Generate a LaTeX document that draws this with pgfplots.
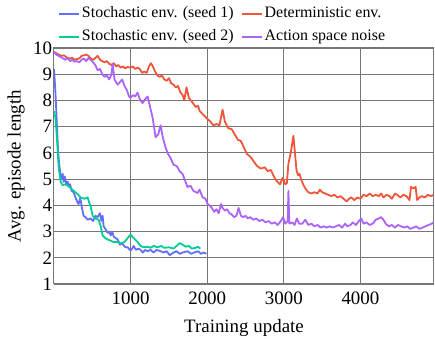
\documentclass[border=0pt]{standalone}
\usepackage{fontspec}
\setmainfont{Liberation Serif}
\newfontfamily\tnr{Liberation Serif}
\usepackage{pgfplots}
\pgfplotsset{compat=1.18}
\definecolor{pblue}{HTML}{636EFA}
\definecolor{pred}{HTML}{EF553B}
\definecolor{pgreen}{HTML}{00CC96}
\definecolor{ppurple}{HTML}{AB63FA}
\definecolor{gridc}{RGB}{118,118,118}
\newcommand{\legfont}{\fontsize{16}{19}\tnr}
\newcommand{\bigfont}{\fontsize{19}{22}\tnr}
\begin{document}
\begin{tikzpicture}[font=\bigfont]
\begin{axis}[
  name=ax,
  scale only axis,
  width=380bp, height=236bp,
  xmin=0, xmax=4960, ymin=1, ymax=10,
  xtick={1000,2000,3000,4000},
  ytick={1,2,3,4,5,6,7,8,9,10},
  major tick length=0pt,
  grid=major,
  grid style={gridc, line width=0.9bp},
  axis line style={gridc, line width=1bp},
  /pgf/number format/assume math mode=true,
  /pgf/number format/set thousands separator={},
  tick label style={font=\bigfont},
  label style={font=\bigfont},
  xticklabel style={yshift=-4bp},
  yticklabel style={xshift=1.5bp},
  xlabel={Training update},
  ylabel={Avg. episode length},
  xlabel style={at={(axis description cs:0.5,-0.1864)}, anchor=center},
  ylabel style={at={(axis description cs:-0.1,0.5)}, anchor=center},
  legend columns=2,
  legend style={draw=none, fill=none, inner sep=0pt, outer sep=0pt,
    at={(axis description cs:0,1)}, anchor=south west,
    xshift=4bp, yshift=3bp,
    font=\legfont, row sep=7bp,
    /tikz/every odd column/.append style={column sep=2bp},
    /tikz/every even column/.append style={column sep=7bp},
    nodes={inner sep=0pt, text height=12bp, text depth=4bp, font=\legfont}},
  legend cell align=left,
  legend image code/.code={\draw[#1, line width=2bp] (0bp,0bp) -- (20bp,0bp);},
  every axis plot/.append style={line width=1.8bp, line join=round},
]
\addplot[pblue] coordinates {
(0,9.2)(15,8.5)(30,7.6)(45,6.6)(55,6.0)(70,5.5)(87,5.15)(100,5.0)(113,5.2)(126,4.9)(140,5.1)(160,4.8)(179,4.9)(192,4.75)(210,4.8)(230,4.55)(257,4.5)(280,4.3)(309,4.1)(322,4.05)(340,4.25)(348,4.2)(365,3.9)(387,3.6)(410,3.55)(440,3.45)(479,3.5)(510,3.4)(540,3.6)(570,3.55)(600,3.7)(620,3.4)(635,3.6)(648,3.2)(670,3.1)(700,2.95)(720,3.0)(740,2.85)(760,3.0)(780,2.8)(805,2.75)(831,2.7)(860,2.5)(890,2.55)(930,2.4)(961,2.4)(990,2.3)(1010,2.3)(1039,2.45)(1070,2.3)(1100,2.35)(1130,2.3)(1160,2.2)(1190,2.3)(1220,2.25)(1261,2.3)(1300,2.2)(1340,2.3)(1391,2.25)(1430,2.2)(1470,2.25)(1510,2.1)(1561,2.2)(1600,2.25)(1640,2.15)(1680,2.2)(1743,2.25)(1790,2.15)(1830,2.2)(1880,2.25)(1920,2.15)(1952,2.2)(1990,2.15)
};
\addlegendentry{\legfont Stochastic env. (seed 1)}
\addplot[pred] coordinates {
(0,9.85)(30,9.8)(60,9.75)(100,9.7)(130,9.72)(160,9.65)(200,9.6)(240,9.62)(270,9.55)(300,9.58)(330,9.6)(360,9.7)(390,9.72)(420,9.75)(450,9.7)(480,9.6)(510,9.55)(540,9.62)(570,9.7)(600,9.55)(630,9.5)(660,9.45)(690,9.5)(720,9.4)(750,9.35)(780,9.42)(810,9.3)(840,9.35)(870,9.25)(900,9.3)(930,9.22)(960,9.28)(1000,9.25)(1030,9.3)(1060,9.2)(1090,9.25)(1120,9.2)(1150,9.05)(1180,9.1)(1210,9.05)(1240,9.3)(1265,9.42)(1290,9.3)(1320,9.1)(1350,8.95)(1380,8.9)(1410,8.95)(1440,8.8)(1470,8.75)(1500,8.85)(1530,8.65)(1560,8.6)(1590,8.5)(1620,8.55)(1650,8.3)(1680,8.2)(1700,8.0)(1730,8.5)(1760,8.1)(1800,7.95)(1850,7.75)(1880,7.8)(1900,7.6)(1950,7.45)(2000,7.3)(2040,7.2)(2080,7.05)(2120,7.1)(2160,7.05)(2200,7.65)(2230,7.2)(2270,6.95)(2320,6.9)(2360,6.7)(2400,6.5)(2440,6.45)(2480,6.2)(2520,5.95)(2565,5.85)(2600,5.7)(2650,5.5)(2700,5.4)(2750,5.45)(2790,5.3)(2830,5.35)(2870,5.1)(2900,4.95)(2950,4.8)(2985,5.05)(3020,4.8)(3040,4.85)(3060,5.6)(3090,6.0)(3125,6.65)(3145,6.0)(3165,5.35)(3185,5.15)(3205,5.2)(3230,4.95)(3260,4.75)(3290,4.6)(3320,4.5)(3360,4.45)(3400,4.5)(3440,4.45)(3470,4.6)(3500,4.5)(3540,4.45)(3580,4.4)(3620,4.35)(3660,4.4)(3700,4.3)(3740,4.35)(3780,4.25)(3820,4.15)(3850,4.25)(3880,4.3)(3920,4.2)(3960,4.3)(4000,4.25)(4040,4.4)(4080,4.35)(4120,4.45)(4160,4.35)(4200,4.4)(4240,4.35)(4270,4.45)(4300,4.3)(4340,4.4)(4380,4.35)(4410,4.25)(4450,4.45)(4480,4.4)(4520,4.3)(4560,4.4)(4600,4.35)(4640,4.2)(4660,4.7)(4690,4.65)(4720,4.7)(4740,4.2)(4770,4.3)(4800,4.35)(4840,4.3)(4880,4.4)(4920,4.35)(4955,4.4)
};
\addlegendentry{\legfont Deterministic env.}
\addplot[pgreen] coordinates {
(0,7.6)(20,7.3)(40,6.5)(61,5.45)(87,4.9)(113,4.77)(150,4.8)(179,4.75)(220,4.65)(257,4.55)(300,4.45)(348,4.3)(400,4.25)(440,4.3)(460,4.1)(479,3.95)(505,3.6)(540,3.5)(583,3.45)(610,3.2)(635,2.85)(670,2.75)(700,2.7)(740,2.65)(780,2.6)(831,2.6)(870,2.55)(920,2.6)(961,2.75)(1000,2.88)(1040,2.75)(1091,2.6)(1130,2.45)(1169,2.4)(1220,2.42)(1261,2.38)(1300,2.45)(1350,2.4)(1400,2.45)(1440,2.38)(1500,2.4)(1560,2.35)(1600,2.45)(1639,2.56)(1680,2.5)(1720,2.42)(1760,2.45)(1800,2.35)(1850,2.38)(1880,2.42)(1910,2.35)
};
\addlegendentry{\legfont Stochastic env. (seed 2)}
\addplot[ppurple] coordinates {
(0,9.85)(30,9.75)(60,9.7)(90,9.65)(120,9.6)(150,9.55)(180,9.62)(210,9.5)(240,9.55)(270,9.48)(300,9.5)(330,9.45)(360,9.55)(390,9.6)(420,9.5)(450,9.62)(480,9.55)(510,9.45)(540,9.35)(570,9.15)(600,9.2)(630,9.0)(660,8.9)(690,8.95)(720,8.8)(750,9.0)(765,9.4)(790,8.8)(830,8.6)(860,8.7)(890,8.8)(920,8.55)(950,8.4)(980,8.15)(1000,8.1)(1030,8.2)(1060,8.15)(1090,8.3)(1120,8.05)(1156,7.9)(1190,8.05)(1222,8.15)(1250,7.8)(1287,7.35)(1310,6.9)(1326,6.6)(1360,6.7)(1391,7.05)(1420,6.6)(1456,6.2)(1490,5.95)(1522,5.8)(1560,5.55)(1600,5.5)(1613,5.45)(1640,5.3)(1678,5.2)(1710,4.95)(1743,4.7)(1780,4.75)(1820,4.55)(1874,4.47)(1900,4.6)(1940,4.3)(1978,4.25)(2004,4.05)(2030,4.0)(2060,3.9)(2090,3.75)(2120,3.85)(2150,3.7)(2180,4.05)(2200,3.9)(2230,3.8)(2260,3.85)(2290,3.7)(2320,3.65)(2350,3.55)(2380,3.6)(2410,3.9)(2440,3.6)(2470,3.55)(2500,3.6)(2530,3.5)(2560,3.55)(2600,3.45)(2640,3.5)(2680,3.4)(2720,3.45)(2760,3.35)(2800,3.4)(2840,3.3)(2880,3.35)(2920,3.25)(2960,3.4)(2990,3.55)(3020,3.3)(3050,3.4)(3060,4.55)(3072,3.3)(3110,3.35)(3140,3.25)(3170,3.5)(3200,3.3)(3240,3.3)(3280,3.45)(3320,3.25)(3360,3.3)(3400,3.2)(3440,3.25)(3480,3.15)(3520,3.2)(3560,3.15)(3600,3.2)(3640,3.15)(3680,3.2)(3720,3.25)(3760,3.15)(3800,3.3)(3830,3.2)(3870,3.25)(3900,3.35)(3940,3.25)(3980,3.4)(4010,3.5)(4040,3.3)(4080,3.35)(4120,3.25)(4160,3.3)(4200,3.45)(4240,3.5)(4270,3.55)(4300,3.45)(4330,3.3)(4370,3.2)(4410,3.25)(4450,3.15)(4490,3.25)(4530,3.2)(4570,3.15)(4610,3.2)(4650,3.1)(4690,3.15)(4730,3.2)(4770,3.1)(4810,3.15)(4850,3.2)(4890,3.25)(4930,3.3)(4955,3.35)
};
\addlegendentry{\legfont Action space noise}
\end{axis}
\pgfresetboundingbox
\useasboundingbox ([xshift=-54bp,yshift=-55bp]ax.south west) rectangle ([xshift=1bp,yshift=48bp]ax.north east);
\end{tikzpicture}
\end{document}
